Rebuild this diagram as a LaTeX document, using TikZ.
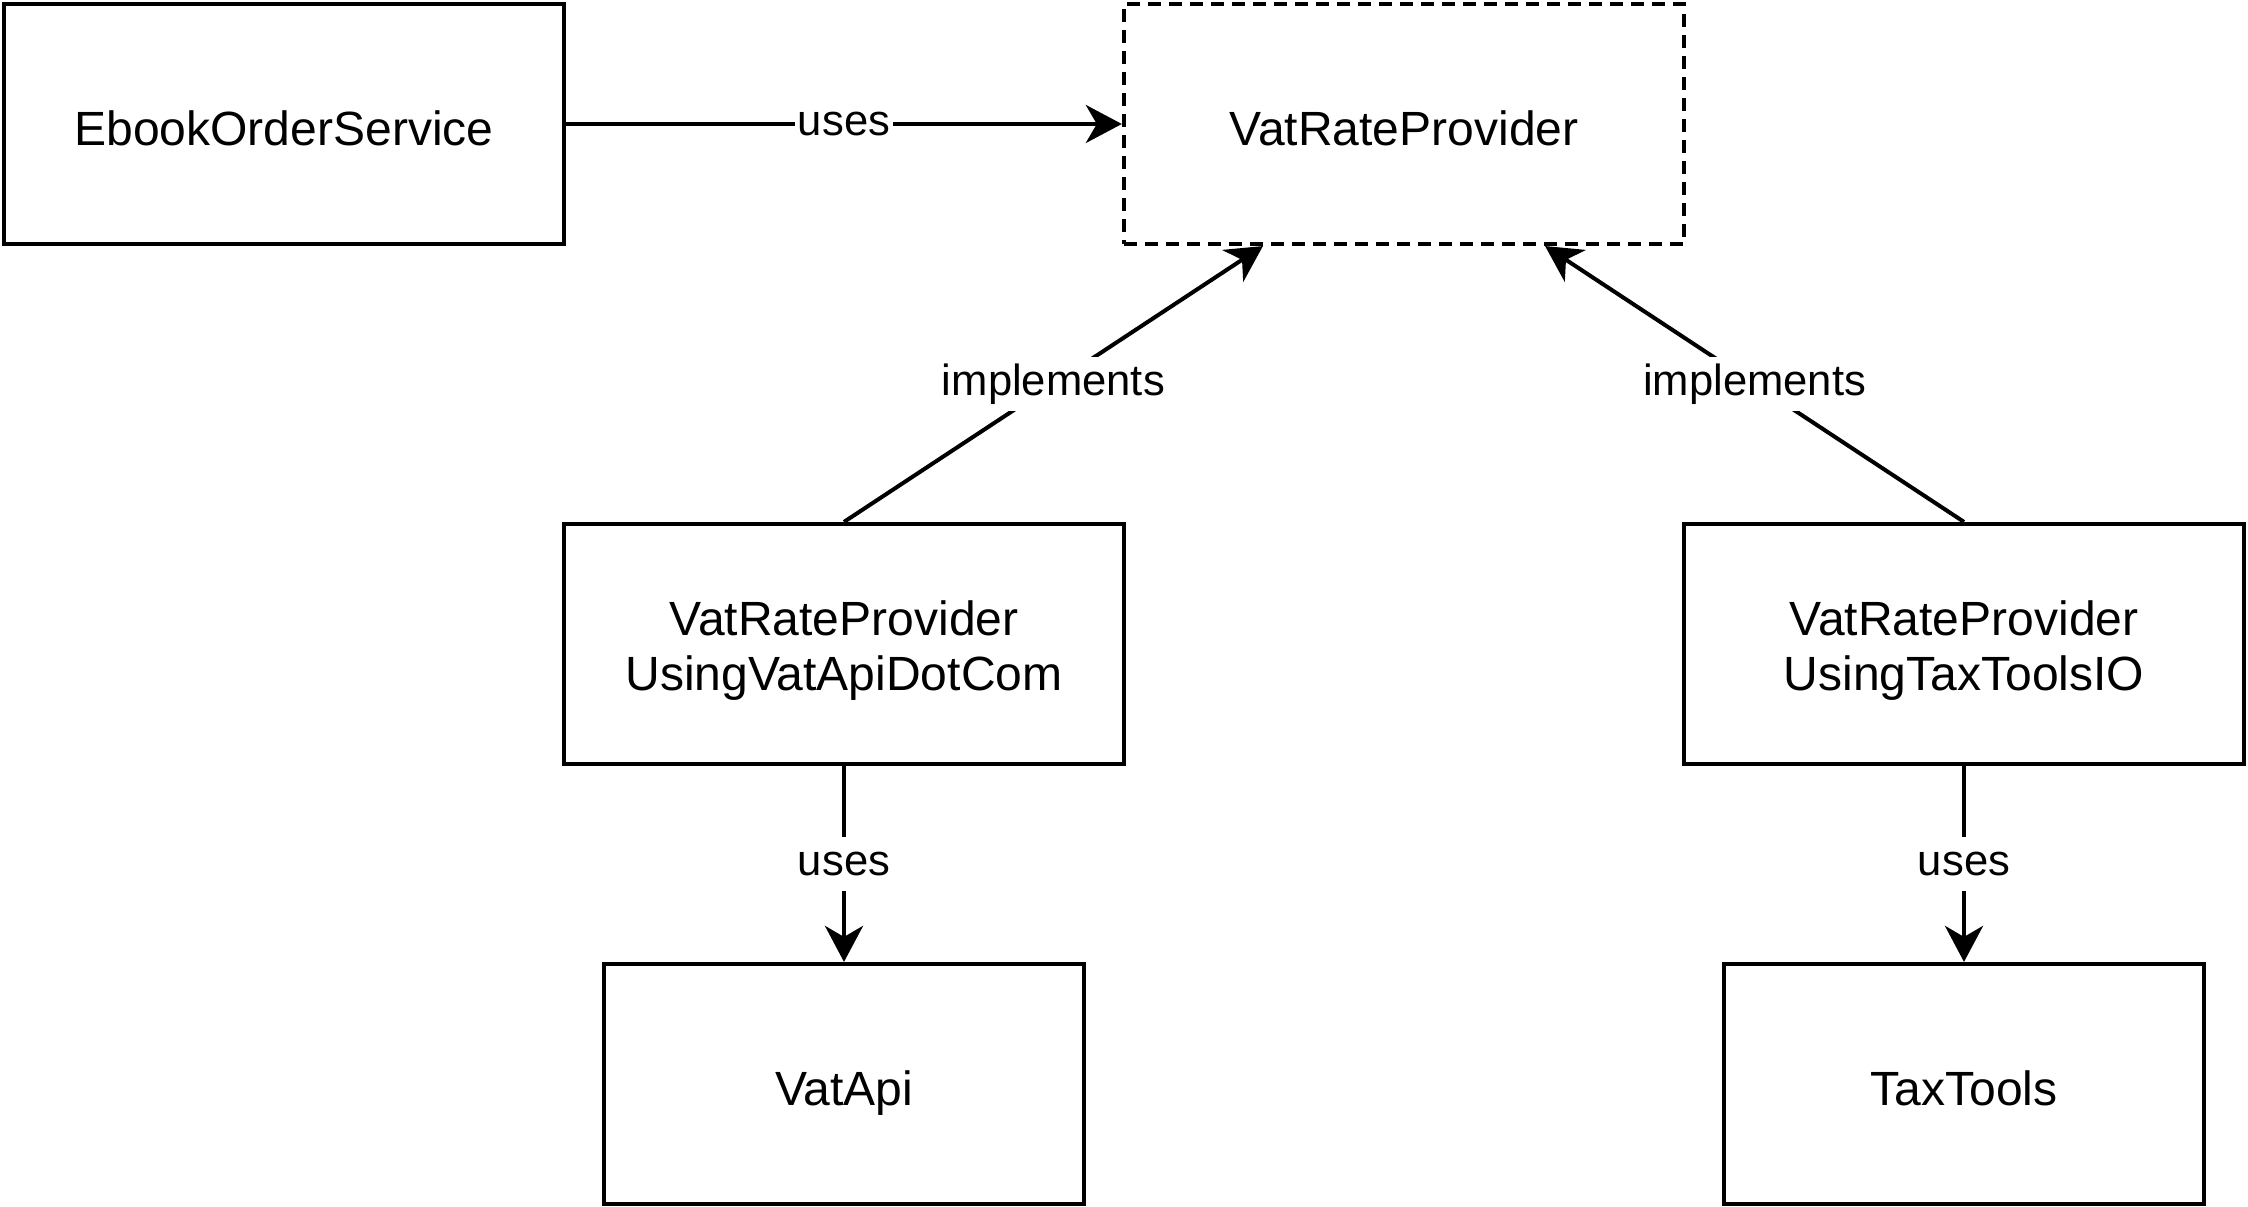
\documentclass[tikz,border=0pt]{standalone}
\usepackage{fontspec}
\setmainfont{Liberation Sans}
\usetikzlibrary{arrows.meta,calc}
\begin{document}
\begin{tikzpicture}[x=0.01cm,y=-0.01cm,
  box/.style={draw, line width=0.04cm, minimum height=2.4cm, align=center, inner sep=0pt,
    font=\fontsize{13.66}{15.65}\selectfont},
  wide/.style={box, minimum width=5.6cm},
  narrow/.style={box, minimum width=4.8cm},
  single/.style={text height=0.45cm, text depth=0.02cm},
  iface/.style={dash pattern=on 0.13cm off 0.08cm},
  conn/.style={line width=0.04cm, -{Stealth[length=0.36cm,width=0.38cm,inset=0.11cm]}},
  lbl/.style={fill=white, font=\fontsize{12.4}{14}\selectfont, inner xsep=0.03cm,
    inner ysep=0.05cm, text height=0.33cm, text depth=0.1cm}
]
\useasboundingbox (0,0) rectangle (2248,1207);

\node[wide, single] (eos) at (284,124) {EbookOrderService};
\node[wide, single, iface] (vrp) at (1404,124) {VatRateProvider};
\node[wide] (ml) at (844,644) {\rule{0pt}{0.48cm}VatRateProvider\\UsingVatApiDotCom};
\node[wide] (mr) at (1964,644) {\rule{0pt}{0.48cm}VatRateProvider\\UsingTaxToolsIO};
\node[narrow, single] (va) at (844,1084) {VatApi};
\node[narrow, single] (tt) at (1964,1084) {TaxTools};

\coordinate (vrpL) at ($(vrp.south west)!0.25!(vrp.south east)$);
\coordinate (vrpR) at ($(vrp.south west)!0.75!(vrp.south east)$);

\draw[conn] (eos.east) -- node[lbl] {uses} (vrp.west);
\draw[conn] (ml.north) -- node[lbl] {implements} (vrpL);
\draw[conn] (mr.north) -- node[lbl] {implements} (vrpR);
\draw[conn] (ml.south) -- node[lbl] {uses} (va.north);
\draw[conn] (mr.south) -- node[lbl] {uses} (tt.north);
\end{tikzpicture}
\end{document}
